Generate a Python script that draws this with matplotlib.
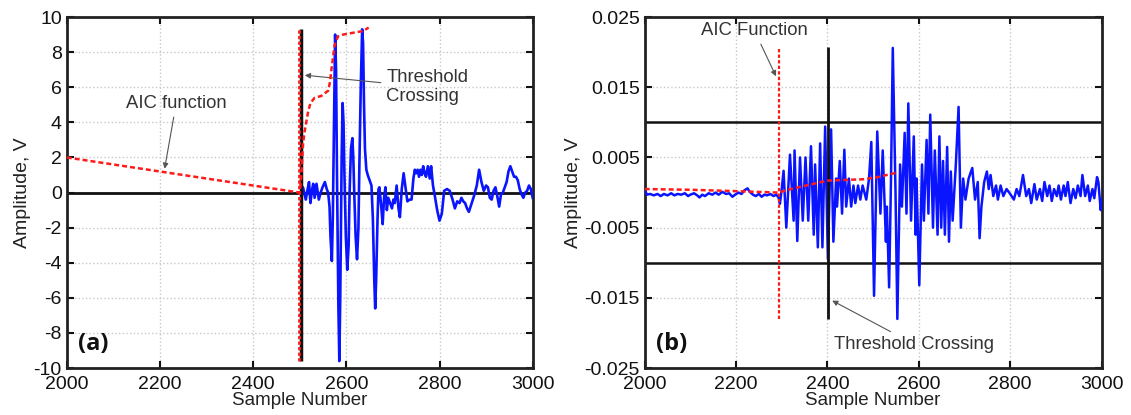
import numpy as np
import matplotlib
matplotlib.use("Agg")
import matplotlib.pyplot as plt

plt.rcParams['font.family'] = ['Liberation Sans', 'DejaVu Sans']
plt.rcParams['axes.unicode_minus'] = False

# ---- panel (a): waveform, AIC and threshold ----
a_sig_x = [2503, 2507, 2513, 2517, 2520, 2523, 2526, 2529, 2532, 2536, 2541, 2545, 2549, 2554, 2558, 2561,
           2564, 2566, 2569, 2571, 2574, 2576, 2578, 2580, 2583, 2585, 2587, 2590, 2592, 2594, 2596, 2599,
           2602, 2605, 2607, 2610, 2613, 2615, 2617, 2620, 2623, 2626, 2628, 2631, 2634, 2636, 2638, 2640,
           2643, 2646, 2650, 2654, 2657, 2660, 2662, 2664, 2667, 2669, 2671, 2675, 2678, 2681, 2684, 2687,
           2690, 2694, 2698, 2701, 2704, 2708, 2712, 2715, 2719, 2723, 2727, 2731, 2736, 2740, 2744, 2747,
           2750, 2753, 2756, 2759, 2762, 2765, 2768, 2771, 2775, 2779, 2782, 2786, 2790, 2795, 2800, 2805,
           2810, 2816, 2822, 2828, 2833, 2838, 2843, 2847, 2851, 2855, 2859, 2863, 2868, 2874, 2880, 2885,
           2890, 2895, 2900, 2904, 2908, 2912, 2916, 2920, 2924, 2928, 2932, 2936, 2940, 2944, 2948, 2952,
           2956, 2960, 2964, 2968, 2972, 2976, 2980, 2984, 2988, 2992, 2996, 3000]
a_sig_y = [0.0, 0.3, -0.4, 0.2, 0.6, -0.6, 0.1, 0.5, -0.3, 0.5, -0.4, 0.0, 0.3, 0.6, 0.2, 0.0,
           -0.8, -2.5, -3.9, -1.5, 5.0, 9.0, 7.0, 1.0, -6.5, -9.6, -6.0, 2.0, 5.1, 4.0, 1.0, -2.5,
           -4.4, -3.0, 0.0, 2.5, 3.1, 2.0, 0.0, -2.5, -3.8, -2.0, 1.5, 6.0, 9.3, 8.5, 5.0, 2.5,
           1.3, 1.0, 0.7, 0.4, -1.5, -5.0, -6.6, -5.0, -1.5, 0.2, 0.3, -0.8, -1.8, -0.3, 0.3, -1.0,
           -0.3, -0.6, -0.9, -0.4, -0.6, 0.4, -0.9, -1.4, 0.2, 1.1, 0.3, -0.5, -0.4, -0.4, 0.8, 1.3,
           1.1, 1.3, 0.9, 1.3, 1.0, 1.5, 1.1, 0.9, 1.5, 0.8, 1.5, 0.4, -0.2, -1.0, -1.6, -1.2,
           0.1, 0.2, 0.1, -0.4, -0.9, -0.5, -0.6, -0.3, -0.5, -0.6, -0.9, -1.1, -0.7, -0.2, 0.4, 1.3,
           0.6, 0.1, 0.4, 0.3, -0.3, -0.4, 0.1, 0.3, -0.2, -0.8, -0.1, 0.0, 0.3, 0.6, 1.2, 1.5,
           1.2, 0.9, 0.9, 0.7, 0.2, -0.1, -0.3, 0.0, 0.1, 0.4, 0.2, -0.3]
a_aic_x = [2000, 2500, 2502, 2504, 2507, 2510, 2514, 2518, 2523, 2532, 2546, 2561, 2565, 2568, 2572, 2575,
           2582, 2593, 2614, 2636, 2648]
a_aic_y = [2.0, 0.0, 0.5, 1.2, 2.7, 3.4, 4.0, 4.6, 5.1, 5.4, 5.5, 5.8, 6.3, 7.0, 7.8, 8.4,
           8.9, 9.0, 9.1, 9.2, 9.4]
a_pick_aic = 2499
a_pick_thr = 2502
a_pick_lo, a_pick_hi = -9.6, 9.3

# ---- panel (b) ----
b_sig_x = [2000, 2005, 2012, 2020, 2028, 2035, 2042, 2050, 2058, 2065, 2072, 2080, 2088, 2095, 2100, 2108,
           2115, 2120, 2126, 2132, 2140, 2148, 2155, 2162, 2170, 2178, 2185, 2192, 2198, 2205, 2212, 2218,
           2225, 2230, 2237, 2243, 2250, 2256, 2262, 2268, 2275, 2282, 2288, 2293, 2296, 2300, 2304, 2310,
           2318, 2326, 2328, 2334, 2340, 2346, 2352, 2358, 2364, 2370, 2373, 2379, 2384, 2389, 2395, 2401,
           2408, 2413, 2419, 2421, 2427, 2432, 2437, 2441, 2447, 2452, 2457, 2461, 2467, 2472, 2477, 2485,
           2491, 2496, 2502, 2509, 2516, 2521, 2528, 2530, 2535, 2539, 2543, 2549, 2553, 2559, 2563, 2569,
           2573, 2577, 2583, 2589, 2593, 2595, 2601, 2607, 2611, 2617, 2621, 2625, 2631, 2635, 2641, 2645,
           2649, 2653, 2657, 2662, 2666, 2670, 2674, 2681, 2687, 2692, 2697, 2702, 2709, 2717, 2723, 2729,
           2733, 2737, 2743, 2749, 2753, 2757, 2763, 2769, 2773, 2779, 2785, 2792, 2800, 2808, 2814, 2820,
           2828, 2835, 2841, 2846, 2853, 2858, 2865, 2870, 2875, 2881, 2886, 2891, 2896, 2902, 2906, 2911,
           2917, 2921, 2926, 2932, 2938, 2943, 2948, 2954, 2958, 2964, 2970, 2974, 2980, 2984, 2990, 2993,
           2998, 3000]
b_sig_y = [0.0004, -0.0003, -0.0002, -0.0004, -0.0002, -0.0005, -0.0002, -0.0004, -0.0001, -0.0004,
           -0.0002, -0.0003, -0.0001, -0.0005, -0.0003, -0.0001, -0.0004, -0.0007, -0.0003, -0.0005,
           -0.0001, -0.0003, 0.0000, -0.0003, 0.0001, -0.0002, -0.0001, -0.0006, -0.0003, 0.0000,
           -0.0002, 0.0003, 0.0006, 0.0001, -0.0003, -0.0005, -0.0002, -0.0006, -0.0003, -0.0004,
           -0.0002, -0.0005, -0.0003, -0.0007, -0.0016, 0.0005, 0.0031, -0.0050,
           0.0054, -0.0040, 0.0060, -0.0069, 0.0050, -0.0040, 0.0050, -0.0040, 0.0066, -0.0060, 0.0040,
           -0.0078, 0.0070, -0.0078, 0.0094, -0.0095, 0.0090, -0.0070, 0.0020, -0.0020, 0.0045, -0.0030,
           0.0061, -0.0020, 0.0020, -0.0020, 0.0010, -0.0015, 0.0010, -0.0010, 0.0010, -0.0010,
           0.0020, 0.0072, -0.0147, 0.0087, -0.0030, 0.0060, -0.0070, -0.0020, -0.0135, 0.0015,
           0.0206, 0.0000, -0.0180, 0.0040, -0.0020, 0.0085, -0.0030, 0.0127, -0.0040, 0.0080,
           -0.0060, 0.0020, -0.0132, 0.0040, -0.0040, 0.0075, -0.0030, 0.0111, -0.0050, 0.0060,
           -0.0060, 0.0080, -0.0050, 0.0045, -0.0060, 0.0065, -0.0070, 0.0030, -0.0040, 0.0040,
           0.0122, -0.0050, 0.0020, -0.0010, 0.0020, 0.0035, -0.0010, 0.0015, -0.0065, -0.0020,
           0.0015, 0.0030, 0.0005, 0.0025, -0.0005, 0.0010, -0.0010, 0.0010, -0.0005, 0.0005,
           -0.0002, -0.0010, 0.0005, -0.0005, 0.0025, -0.0005, 0.0005, -0.0015, 0.0012, -0.0010,
           0.0005, -0.0012, 0.0015, -0.0005, 0.0010, -0.0012, 0.0005, -0.0005, 0.0010, -0.0010,
           0.0010, -0.0005, 0.0015, -0.0015, 0.0005, -0.0008, 0.0010, -0.0005, 0.0025, -0.0005,
           0.0010, -0.0012, 0.0005, -0.0008, 0.0022, 0.0015, -0.0025, -0.0010]
b_aic_x = [2000, 2100, 2200, 2293, 2320, 2360, 2400, 2440, 2480, 2510, 2549]
b_aic_y = [0.0005, 0.0004, 0.0002, 0.0000, 0.0005, 0.0011, 0.0017, 0.0018, 0.0019, 0.0022, 0.0028]
b_pick_aic = 2293
b_pick_thr = 2401
b_pick_lo, b_pick_hi = -0.018, 0.0207
b_threshold = 0.010

fig = plt.figure(figsize=(11.31, 4.15), dpi=100)
ax1 = fig.add_axes([0.059, 0.113, 0.412, 0.846])
ax2 = fig.add_axes([0.570, 0.113, 0.404, 0.846])

def style_axes(ax):
    ax.grid(True, color='#c8c8c8', linestyle=':', linewidth=1.0)
    ax.set_axisbelow(True)
    for sp in ax.spines.values():
        sp.set_linewidth(2.0)
        sp.set_color('#222222')
    ax.tick_params(direction='in', length=5, width=1.5, top=True, right=True,
                   labelsize=14, colors='#111111')
    ax.tick_params(axis='x', pad=6)
    ax.set_xlim(2000, 3000)
    ax.set_xticks(np.arange(2000, 3001, 200))
    ax.set_xlabel('Sample Number', fontsize=13.5, color='#222222', labelpad=-1)
    ax.set_ylabel('Amplitude, V', fontsize=14, color='#222222', labelpad=2)

arrow = dict(arrowstyle='-|>', color='#555555', lw=0.8, mutation_scale=8)

# (a)
style_axes(ax1)
ax1.set_ylim(-10, 10)
ax1.set_yticks(np.arange(-10, 11, 2))
ax1.axhline(0, color='#111111', lw=2.0, zorder=2)
ax1.plot(a_sig_x, a_sig_y, color='#0a14ff', lw=1.9, zorder=3)
ax1.vlines(a_pick_thr, a_pick_lo, a_pick_hi, color='#111111', lw=2.5, zorder=4)
ax1.vlines(a_pick_aic, a_pick_lo, a_pick_hi, color='#ff1a1a', lw=2.0, linestyles=(0, (1.2, 0.8)), zorder=5)
ax1.plot(a_aic_x, a_aic_y, color='#ff1a1a', lw=1.8, linestyle=(0, (2, 1.2)), zorder=5)
ax1.annotate('AIC function', xy=(2209, 1.2), xytext=(2235, 5.1), ha='center', va='center',
             fontsize=13.3, color='#333333', arrowprops=arrow)
ax1.annotate('Threshold\nCrossing', xy=(2505, 6.7), xytext=(2686, 6.0), ha='left', va='center',
             fontsize=13.3, color='#333333', linespacing=1.15, arrowprops=arrow)
ax1.text(2025, -8.6, '(a)', fontsize=17, fontweight='bold', va='center', ha='left', color='#111111',
         family=['Open Sans', 'DejaVu Sans'])

# (b)
style_axes(ax2)
ax2.set_ylim(-0.025, 0.025)
ax2.set_yticks([-0.025, -0.015, -0.005, 0.005, 0.015, 0.025])
ax2.set_yticklabels(['-0.025', '-0.015', '-0.005', '0.005', '0.015', '0.025'])
ax2.axhline(b_threshold, color='#111111', lw=1.8, zorder=2)
ax2.axhline(-b_threshold, color='#111111', lw=1.8, zorder=2)
ax2.plot(b_sig_x, b_sig_y, color='#0a14ff', lw=1.8, zorder=3)
ax2.vlines(b_pick_thr, b_pick_lo, b_pick_hi, color='#111111', lw=2.0, zorder=4)
ax2.vlines(b_pick_aic, b_pick_lo, b_pick_hi, color='#ff1a1a', lw=1.6, linestyles=(0, (1.5, 1)), zorder=5)
ax2.plot(b_aic_x, b_aic_y, color='#ff1a1a', lw=1.8, linestyle=(0, (2, 1.2)), zorder=5)
ax2.annotate('AIC Function', xy=(2290, 0.0162), xytext=(2240, 0.0231), ha='center', va='center',
             fontsize=13.3, color='#333333', arrowprops=arrow)
ax2.annotate('Threshold Crossing', xy=(2405, -0.0152), xytext=(2590, -0.0216), ha='center', va='center',
             fontsize=13.3, color='#333333', arrowprops=arrow)
ax2.text(2025, -0.0216, '(b)', fontsize=17, fontweight='bold', va='center', ha='left', color='#111111',
         family=['Open Sans', 'DejaVu Sans'])

fig.savefig('out.png', dpi=100)
